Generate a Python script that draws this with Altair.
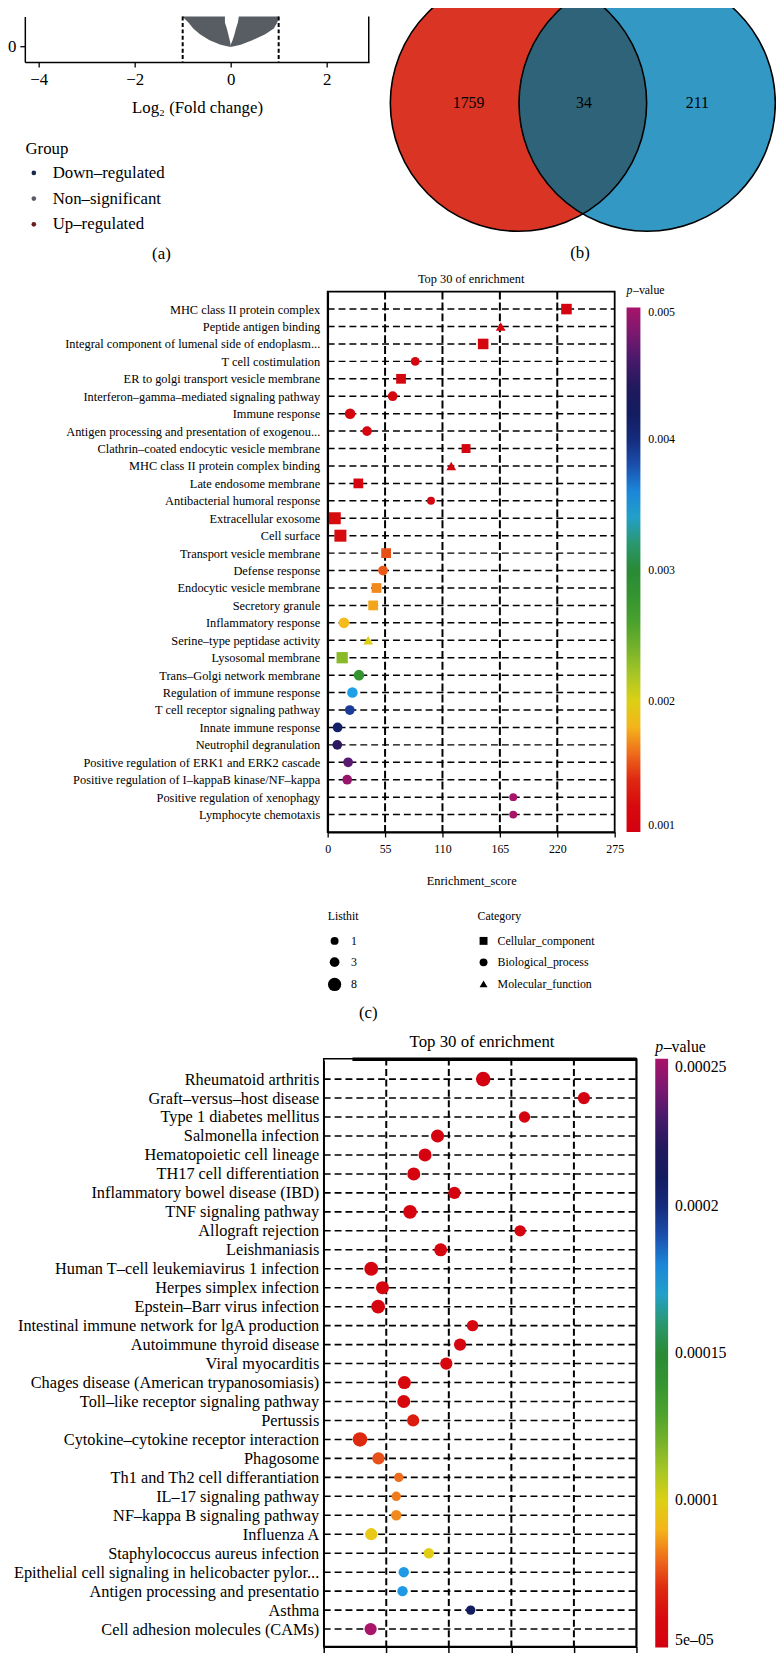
import altair as alt
import pandas as pd

# ---------------- (a) volcano plot: visible lower part of the grey cloud ----------------
vol_y = [1.0, 0.8, 0.6, 0.4, 0.2, 0.05, -0.03]
vol_left_outer = [-1.01, -0.88, -0.78, -0.64, -0.44, -0.21, 0.0]
vol_left_inner = [-0.12, -0.12, -0.08, -0.05, -0.02, 0.0, 0.0]
vol_right_inner = [0.17, 0.15, 0.11, 0.08, 0.04, 0.0, 0.0]
vol_right_outer = [1.01, 0.97, 0.90, 0.72, 0.45, 0.21, 0.0]
vol_groups = ["Down–regulated", "Non–significant", "Up–regulated"]
vol_group_colors = ["#1b2a4a", "#585d64", "#6b1d1f"]
vol_thresholds = [-1, 1]
vol_x_ticks = [-4, -2, 0, 2]
vol_y_ticks = [0]

# ---------------- (b) Venn ----------------
venn_sets = ["Set 1", "Set 2"]
venn_set_pos = [0, 1]
venn_counts = [1759, 34, 211]
venn_count_pos = [-0.388, 0.509, 1.39]
venn_colors = ["#d93424", "#3399c4"]
venn_overlap_color = "#2e6379"

# ---------------- (c) GO enrichment ----------------
go_terms = [
    "MHC class II protein complex",
    "Peptide antigen binding",
    "Integral component of lumenal side of endoplasm...",
    "T cell costimulation",
    "ER to golgi transport vesicle membrane",
    "Interferon–gamma–mediated signaling pathway",
    "Immune response",
    "Antigen processing and presentation of exogenou...",
    "Clathrin–coated endocytic vesicle membrane",
    "MHC class II protein complex binding",
    "Late endosome membrane",
    "Antibacterial humoral response",
    "Extracellular exosome",
    "Cell surface\u00a0\u00a0\u00a0",
    "Transport vesicle membrane",
    "Defense response",
    "Endocytic vesicle membrane",
    "Secretory granule",
    "Inflammatory response",
    "Serine–type peptidase activity",
    "Lysosomal membrane",
    "Trans–Golgi network membrane",
    "Regulation of immune response",
    "T cell receptor signaling pathway",
    "Innate immune response",
    "Neutrophil degranulation",
    "Positive regulation of ERK1 and ERK2 cascade",
    "Positive regulation of I–kappaB kinase/NF–kappa",
    "Positive regulation of xenophagy",
    "Lymphocyte chemotaxis",
]
CC, BP, MF = "Cellular_component", "Biological_process", "Molecular_function"
go_categories = [CC, BP, MF]
go_category = [CC, MF, CC, BP, CC, BP, BP, BP, CC, MF,
               CC, BP, CC, CC, CC, BP, CC, CC, BP, MF,
               CC, BP, BP, BP, BP, BP, BP, BP, BP, BP]
go_score = [228.8, 165.8, 149.0, 83.9, 70.3, 62.3, 21.5, 37.7, 132.6, 118.4,
            29.4, 99.0, 6.8, 12.2, 56.0, 53.0, 46.8, 43.6, 15.6, 38.8,
            13.9, 30.0, 23.7, 21.2, 9.5, 9.2, 19.6, 18.7, 177.8, 177.8]
go_listhit = [4, 3, 4, 2, 3, 3, 4, 3, 2, 3,
              3, 1, 6, 6, 3, 3, 3, 3, 4, 3,
              5, 4, 4, 3, 3, 3, 3, 3, 1, 1]
go_pvalue = [0.00105, 0.00105, 0.0011, 0.0011, 0.0011, 0.0011, 0.0011, 0.0011, 0.0011, 0.0011,
             0.0011, 0.0011, 0.0012, 0.0012, 0.00152, 0.00154, 0.00168, 0.00176, 0.00182, 0.0020,
             0.00232, 0.0028, 0.00352, 0.00388, 0.00408, 0.00448, 0.00468, 0.00492, 0.005, 0.005]
go_x_ticks = [0, 55, 110, 165, 220, 275]
go_p_ticks = [0.001, 0.002, 0.003, 0.004, 0.005]
go_listhit_ticks = [1, 3, 8]

# ---------------- (d) KEGG enrichment ----------------
kegg_terms = [
    "Rheumatoid arthritis",
    "Graft–versus–host disease\u00a0",
    "Type 1 diabetes mellitus",
    "Salmonella infection\u00a0",
    "Hematopoietic cell lineage\u00a0",
    "TH17 cell differentiation",
    "Inflammatory bowel disease (IBD)",
    "TNF signaling pathway",
    "Allograft rejection",
    "Leishmaniasis",
    "Human T–cell leukemiavirus 1 infection",
    "Herpes simplex infection",
    "Epstein–Barr virus infection",
    "Intestinal immune network for lgA production",
    "Autoimmune thyroid disease",
    "Viral myocarditis",
    "Chages disease (American trypanosomiasis)\u00a0\u00a0",
    "Toll–like receptor signaling pathway",
    "Pertussis",
    "Cytokine–cytokine receptor interaction",
    "Phagosome",
    "Th1 and Th2 cell differantiation",
    "IL–17 signaling pathway",
    "NF–kappa B signaling pathway",
    "Influenza A",
    "Staphylococcus aureus infection",
    "Epithelial cell signaling in helicobacter pylor...",
    "Antigen processing and presentatio",
    "Asthma",
    "Cell adhesion molecules (CAMs)\u00a0\u00a0\u00a0",
]
kegg_score = [25.5, 41.6, 32.1, 18.2, 16.2, 14.4, 20.9, 13.8, 31.4, 18.7,
              7.6, 9.4, 8.7, 23.8, 21.8, 19.6, 12.9, 12.8, 14.3, 5.8,
              8.75, 12.0, 11.6, 11.6, 7.6, 16.8, 12.8, 12.6, 23.5, 7.5]
kegg_count = [8, 5, 4, 6, 6, 6, 5, 7, 4, 6,
              7, 6, 7, 4, 5, 5, 6, 6, 5, 8,
              5, 2, 2, 3, 5, 3, 3, 3, 2, 5]
kegg_pvalue = [5.1e-5, 5.1e-5, 5.2e-5, 5.2e-5, 5.2e-5, 5.3e-5, 5.3e-5, 5.4e-5, 5.4e-5, 5.5e-5,
               5.5e-5, 5.5e-5, 5.6e-5, 5.6e-5, 5.7e-5, 5.8e-5, 5.8e-5, 5.8e-5, 6.8e-5, 7.0e-5,
               7.6e-5, 8.0e-5, 8.2e-5, 8.4e-5, 9.6e-5, 9.8e-5, 1.77e-4, 1.77e-4, 2.1e-4, 2.5e-4]
kegg_x_ticks = [0, 10, 20, 30, 40, 50]
kegg_p_ticks = [5e-05, 0.0001, 0.00015, 0.0002, 0.00025]

# colour ramp used by both p-value bars (fraction of range -> colour)
ramp_frac = [0, 0.08, 0.12, 0.15, 0.18, 0.21, 0.25, 0.30, 0.36, 0.42, 0.50,
             0.56, 0.60, 0.63, 0.67, 0.72, 0.77, 0.82, 0.87, 0.92, 0.96, 1.0]
ramp_colors = ["#d40010", "#d8100c", "#e44216", "#ee6c1c", "#f4981c", "#f4c21a",
               "#dcd014", "#a8c626", "#6cae2c", "#3a9a2e", "#2a8a36", "#2a9a7a",
               "#22a0c8", "#1ea0e8", "#1a6cca", "#1a3c98", "#12206a", "#141a58",
               "#2c1862", "#5a1a72", "#84186e", "#a8146a"]

# ---------------- layout helpers ----------------
W, H = 776, 1653
MARGIN = 8
SERIF = "Liberation Serif"


def P(v):
    """page pixel -> canvas pixel"""
    return v - MARGIN


one = pd.DataFrame({"k": [0]})


def label(text, x, y, size, align="center", style="normal"):
    return alt.Chart(one).mark_text(
        text=text, font=SERIF, fontSize=size, align=align, baseline="middle",
        fontStyle=style, color="black"
    ).encode(x=alt.value(P(x)), y=alt.value(P(y)))


def frame(x0, y0, x1, y1, width):
    return alt.Chart(one).mark_rect(fillOpacity=0, stroke="black", strokeWidth=width).encode(
        x=alt.value(P(x0)), x2=alt.value(P(x1)), y=alt.value(P(y0)), y2=alt.value(P(y1)))


def hrule(x0, x1, y, width):
    return alt.Chart(one).mark_rule(color="black", strokeWidth=width).encode(
        x=alt.value(P(x0)), x2=alt.value(P(x1)), y=alt.value(P(y)))


def vrule(x, y0, y1, width):
    return alt.Chart(one).mark_rule(color="black", strokeWidth=width).encode(
        x=alt.value(P(x)), y=alt.value(P(y0)), y2=alt.value(P(y1)))


# ================= (a) volcano =================
n = len(vol_y)
vol_df = pd.DataFrame({
    "y": vol_y + vol_y,
    "x1": vol_left_outer + vol_right_inner,
    "x2": vol_left_inner + vol_right_outer,
    "arm": ["left"] * n + ["right"] * n,
    "group": ["Non–significant"] * (2 * n),
})
vx = alt.Scale(domain=[-4.289, 2.887], range=[P(25), P(373)], nice=False, zero=False)
vy = alt.Scale(domain=[-0.533, 1.0], range=[P(54), P(8)], nice=False, zero=False)
vx_axis = alt.Axis(orient="bottom", offset=P(54) - H, values=vol_x_ticks, tickSize=5, tickWidth=1.3,
                   labelFontSize=17, labelPadding=5, labelFlush=False, title="Log₂ (Fold change)",
                   titleFontSize=17, titlePadding=12, domainWidth=1.5, grid=False)
vy_axis = alt.Axis(orient="left", offset=-P(25), values=vol_y_ticks, tickSize=5, tickWidth=1.3,
                   labelFontSize=17, labelPadding=4, title=None, domainWidth=1.5, grid=False)

vol_area = alt.Chart(vol_df).mark_area(orient="horizontal", opacity=1).encode(
    y=alt.Y("y:Q", scale=vy, axis=vy_axis),
    x=alt.X("x1:Q", scale=vx, axis=vx_axis),
    x2="x2:Q",
    detail="arm:N",
    color=alt.Color("group:N", scale=alt.Scale(domain=vol_groups, range=vol_group_colors),
                    legend=alt.Legend(title="Group", orient="none", legendX=P(25.6), legendY=P(133.5),
                                      symbolType="circle", symbolSize=22, labelFontSize=17,
                                      titleFontSize=17, titlePadding=7, rowPadding=8,
                                      labelOffset=10.5, padding=0, symbolStrokeWidth=0)),
)
vol_thr = alt.Chart(pd.DataFrame({"x1": vol_thresholds})).mark_rule(
    color="black", strokeDash=[4, 2.5], strokeWidth=2).encode(
    x=alt.X("x1:Q", scale=vx, axis=vx_axis), y=alt.value(P(8)), y2=alt.value(P(54)))
volcano = alt.layer(vol_area, vol_thr, vrule(372.5, 8, 54, 1.5))

# ================= (b) Venn =================
VS = (2 * 129.5) ** 2
LENS = "M0,-0.865A1,1,0,0,1,0,0.865A1,1,0,0,1,0,-0.865Z"
bx = alt.Scale(domain=[0, 1], range=[P(523.8), P(653.8)], nice=False, zero=False)
venn_df = pd.DataFrame({"set": venn_sets, "cx": venn_set_pos})
venn_lab_df = pd.DataFrame({"cx": venn_count_pos, "n": venn_counts})
venn_fill = alt.Chart(venn_df).mark_point(filled=True, opacity=1, size=VS, shape="circle").encode(
    x=alt.X("cx:Q", scale=bx, axis=None), y=alt.value(P(95.5)),
    color=alt.Color("set:N", scale=alt.Scale(domain=venn_sets, range=venn_colors), legend=None))
venn_lens = alt.Chart(one).mark_point(filled=True, opacity=1, size=VS, shape=LENS,
                                      color=venn_overlap_color).encode(
    x=alt.X(datum=0.5, type="quantitative", scale=bx, axis=None), y=alt.value(P(95.5)))
venn_line = alt.Chart(venn_df).mark_point(filled=False, opacity=1, size=VS, shape="circle",
                                          color="black", strokeWidth=1.6).encode(
    x=alt.X("cx:Q", scale=bx, axis=None), y=alt.value(P(95.5)))
venn_text = alt.Chart(venn_lab_df).mark_text(font=SERIF, fontSize=16, color="black").encode(
    x=alt.X("cx:Q", scale=bx, axis=None), y=alt.value(P(95.5)), text="n:Q")
venn = alt.layer(venn_fill, venn_lens, venn_line, venn_text)

# ================= (c) GO dot plot =================
go_df = pd.DataFrame({"term": go_terms, "category": go_category, "score": go_score,
                      "listhit": go_listhit, "p": go_pvalue})
cx = alt.Scale(domain=[go_x_ticks[0], go_x_ticks[-1]], range=[P(331), P(621)], nice=False, zero=False)
cy = alt.Scale(type="point", domain=go_terms, range=[P(286), P(832)], padding=1.4)
c_color = alt.Scale(domain=[0.001 + f * 0.004 for f in ramp_frac], range=ramp_colors,
                    interpolate="rgb", nice=False, zero=False)
cx_axis = alt.Axis(orient="bottom", offset=P(832) - H, values=go_x_ticks, tickSize=5, tickWidth=1.3,
                   labelFontSize=12, labelPadding=7, labelFlush=False, title="Enrichment_score",
                   titleFontSize=12.5, titlePadding=20, domainWidth=1.8, grid=False)
cy_axis = alt.Axis(orient="left", offset=-P(331), title=None, ticks=False, tickSize=0, labelPadding=8,
                   labelFontSize=12.5, labelLimit=500, domainWidth=1.8, grid=False)

c_rows = alt.Chart(go_df).mark_rule(color="black", strokeDash=[7, 4], strokeWidth=1.5).encode(
    y=alt.Y("term:N", scale=cy, axis=cy_axis),
    x=alt.X(datum=go_x_ticks[0], type="quantitative", scale=cx, axis=cx_axis),
    x2=alt.X2(datum=go_x_ticks[-1]))
c_grid = alt.Chart(pd.DataFrame({"score": go_x_ticks[1:-1]})).mark_rule(
    color="black", strokeDash=[8, 3], strokeWidth=2).encode(
    x=alt.X("score:Q", scale=cx, axis=cx_axis), y=alt.value(P(286)), y2=alt.value(P(832)))
c_pts = alt.Chart(go_df).mark_point(filled=True, opacity=1).encode(
    x=alt.X("score:Q", scale=cx, axis=cx_axis),
    y=alt.Y("term:N", scale=cy, axis=cy_axis),
    color=alt.Color("p:Q", scale=c_color, legend=alt.Legend(
        title=None, orient="none", legendX=P(633), legendY=P(302), direction="vertical",
        gradientLength=530, gradientThickness=14, gradientStrokeWidth=0,
        values=go_p_ticks, format=".3f", labelFontSize=12, labelOffset=8,
        labelOverlap=False, padding=0)),
    size=alt.Size("listhit:Q", scale=alt.Scale(domain=[1, 8], range=[64, 180], zero=False, nice=False),
                  legend=alt.Legend(title="Listhit", orient="none", legendX=P(331), legendY=P(912),
                                    values=go_listhit_ticks, symbolType="circle",
                                    symbolFillColor="black", symbolStrokeWidth=0, symbolOpacity=1,
                                    labelFontSize=12, titleFontSize=12, titlePadding=12,
                                    rowPadding=9.5, labelOffset=9.6, padding=0)),
    shape=alt.Shape("category:N", scale=alt.Scale(domain=go_categories,
                                                  range=["square", "circle", "triangle-up"]),
                    legend=alt.Legend(title="Category", orient="none", legendX=P(482.5), legendY=P(912),
                                      symbolFillColor="black", symbolStrokeWidth=0, symbolSize=64,
                                      symbolOpacity=1, labelFontSize=12, titleFontSize=12,
                                      titlePadding=12, rowPadding=9.7, labelOffset=8.2, padding=0)),
)
panel_c = alt.layer(c_rows, c_grid, c_pts, frame(331, 286, 621, 832, 1.8))

# ================= (d) KEGG dot plot =================
kegg_df = pd.DataFrame({"term": kegg_terms, "score": kegg_score, "count": kegg_count, "p": kegg_pvalue})
dx = alt.Scale(domain=[kegg_x_ticks[0], kegg_x_ticks[-1]], range=[P(327), P(643)], nice=False, zero=False)
dy = alt.Scale(type="point", domain=kegg_terms, range=[P(1062.5), P(1656.5)], padding=1.36)
d_color = alt.Scale(domain=[5e-05 + f * 2e-04 for f in ramp_frac], range=ramp_colors,
                    interpolate="rgb", nice=False, zero=False)
dx_axis = alt.Axis(orient="bottom", offset=P(1655) - H, values=kegg_x_ticks, tickSize=6, tickWidth=1.5,
                   labels=False, title=None, domainWidth=1.8, grid=False)
dy_axis = alt.Axis(orient="left", offset=-P(327), title=None, ticks=False, tickSize=0, labelPadding=5,
                   labelFontSize=16.5, labelLimit=500, domainWidth=1.5, grid=False)

d_rows = alt.Chart(kegg_df).mark_rule(color="black", strokeDash=[7, 4], strokeWidth=1.6).encode(
    y=alt.Y("term:N", scale=dy, axis=dy_axis),
    x=alt.X(datum=kegg_x_ticks[0], type="quantitative", scale=dx, axis=dx_axis),
    x2=alt.X2(datum=kegg_x_ticks[-1]))
d_grid = alt.Chart(pd.DataFrame({"score": kegg_x_ticks[1:-1]})).mark_rule(
    color="black", strokeDash=[7, 3.5], strokeWidth=2).encode(
    x=alt.X("score:Q", scale=dx, axis=dx_axis), y=alt.value(P(1061)), y2=alt.value(P(1655)))
d_pts = alt.Chart(kegg_df).mark_point(filled=True, opacity=1, shape="circle").encode(
    x=alt.X("score:Q", scale=dx, axis=dx_axis),
    y=alt.Y("term:N", scale=dy, axis=dy_axis),
    color=alt.Color("p:Q", scale=d_color, legend=alt.Legend(
        title=None, orient="none", legendX=P(662), legendY=P(1061), direction="vertical",
        gradientLength=595, gradientThickness=13, gradientStrokeWidth=0,
        values=kegg_p_ticks,
        labelExpr="datum.value < 0.0001 ? replace(format(datum.value, '.0e'), 'e-', 'e–0') : format(datum.value, '.5~f')",
        labelFontSize=16, labelOffset=7, labelOverlap=False, padding=0)),
    size=alt.Size("count:Q", scale=alt.Scale(domain=[2, 8], range=[90, 216], zero=False, nice=False),
                  legend=None),
)
panel_d = alt.layer(d_rows, d_grid, d_pts, frame(327, 1061, 643, 1655, 1.5),
                    hrule(356, 643, 1061.5, 3.5), vrule(643, 1061, 1655, 2))

# ================= text annotations =================
texts = [
    label("(a)", 163, 248, 17),
    label("(b)", 586, 247, 17),
    label("(c)", 372, 1015, 17),
    label("Top 30 of enrichment", 476, 273, 12.5),
    label("p", 633, 284, 12, align="left", style="italic"),
    label("–value", 639.5, 284, 12, align="left"),
    label("Top 30 of enrichment", 487, 1044, 17),
    label("p", 662, 1049, 16, align="left", style="italic"),
    label("–value", 670.5, 1049, 16, align="left"),
]

chart = alt.layer(volcano, venn, panel_c, panel_d, *texts).resolve_scale(
    x="independent", y="independent", color="independent", size="independent", shape="independent"
).resolve_axis(x="independent", y="independent").resolve_legend(
    color="independent", size="independent", shape="independent"
).properties(
    width=W, height=H, padding=0, autosize=alt.AutoSizeParams(type="none")
).configure_view(stroke=None).configure_axis(
    labelFont=SERIF, titleFont=SERIF, labelColor="black", titleColor="black",
    domainColor="black", tickColor="black", titleFontWeight="normal", grid=False
).configure_legend(
    labelFont=SERIF, titleFont=SERIF, labelColor="black", titleColor="black", titleFontWeight="normal"
)

chart.save("out.html", embed_options={"renderer": "svg", "actions": False})
